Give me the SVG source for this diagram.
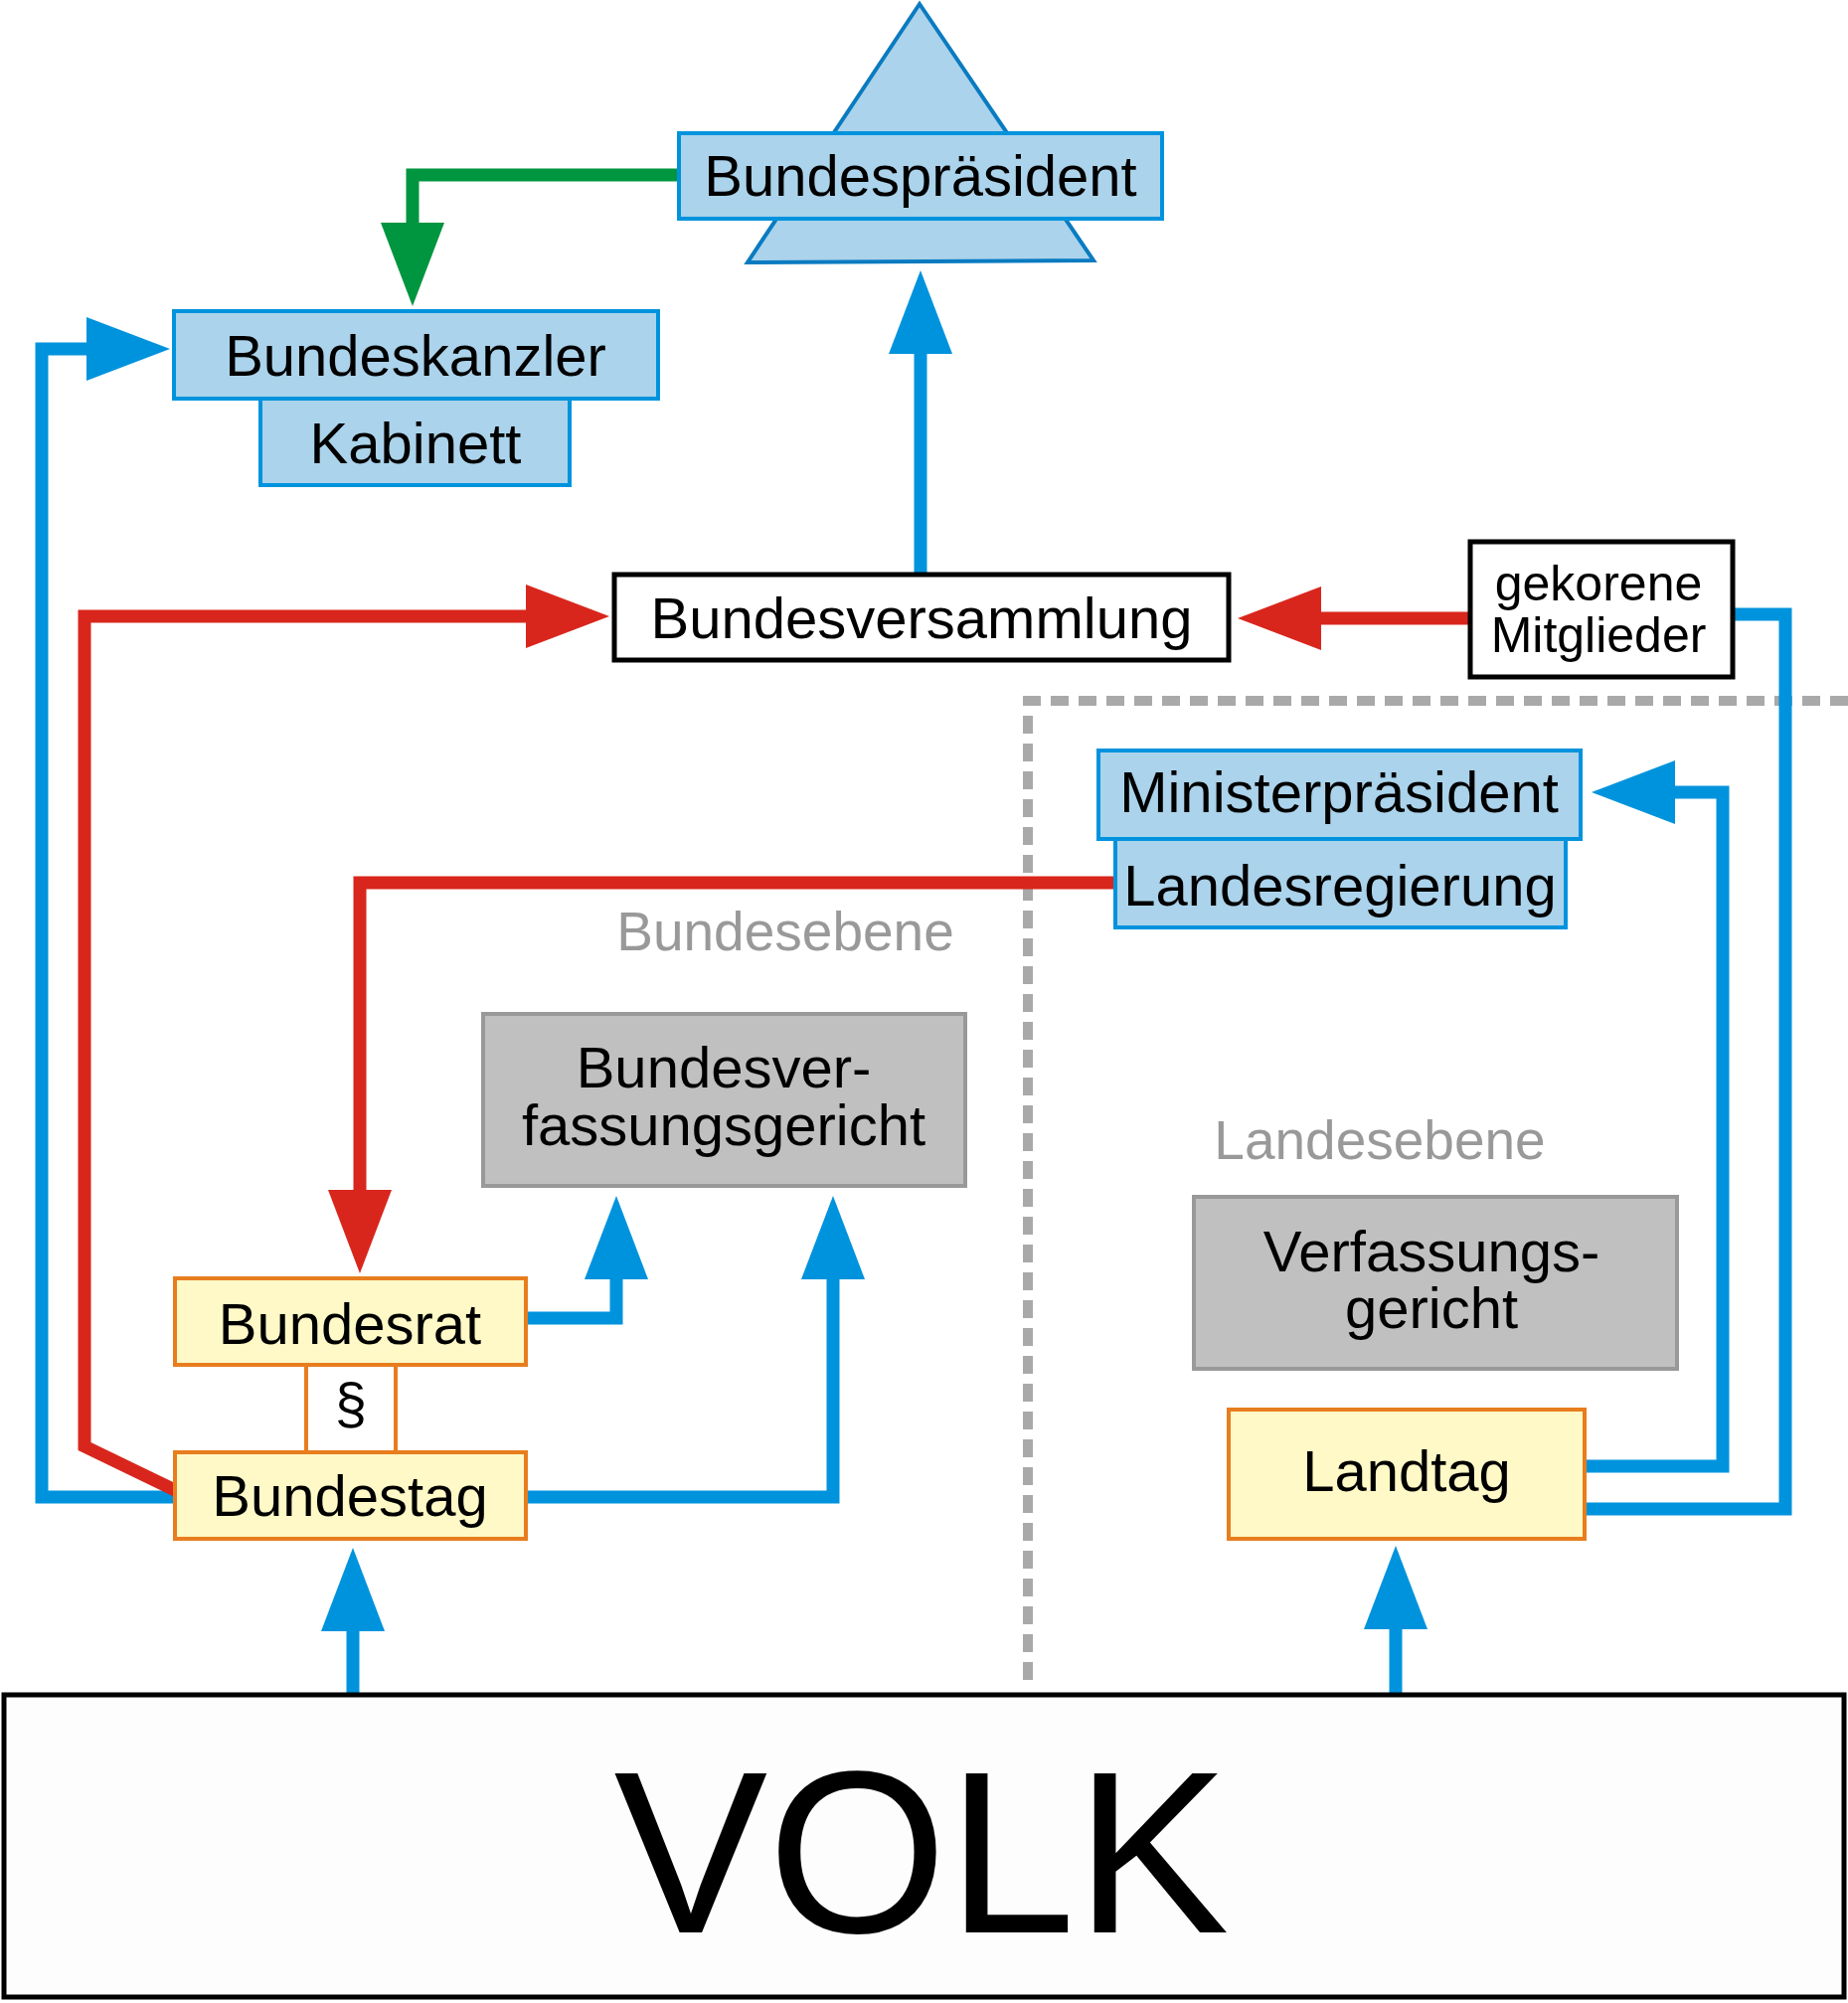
<svg xmlns="http://www.w3.org/2000/svg" width="1859" height="2015" viewBox="0 0 1859 2015">
<style>
text{font-family:"Liberation Sans",Arial,sans-serif;font-size:58px;fill:#000;text-anchor:middle}
text.small{font-size:50px}
text.big{font-size:232px}
.blue{fill:#abd3eb;stroke:#0093dd;stroke-width:4}
.parl{fill:#fef9c6;stroke:#e87d1e;stroke-width:4}
.court{fill:#c0c0c0;stroke:#999;stroke-width:4}
.plain{fill:#fff;stroke:#000;stroke-width:5}
text.lvl{fill:#999;font-size:55px}
.c{fill:none;stroke-width:13;stroke-linejoin:miter;stroke-linecap:butt}
.cb{stroke:#0093dd}
.cr{stroke:#d9261c}
.cg{stroke:#00953f}
</style>
<defs>
<marker id="ab" markerUnits="userSpaceOnUse" markerWidth="90" markerHeight="70" refX="1" refY="32" orient="auto"><path d="M0,0 L84,32 L0,64 Z" fill="#0093dd"/></marker>
<marker id="ar" markerUnits="userSpaceOnUse" markerWidth="90" markerHeight="70" refX="1" refY="32" orient="auto"><path d="M0,0 L84,32 L0,64 Z" fill="#d9261c"/></marker>
<marker id="ag" markerUnits="userSpaceOnUse" markerWidth="90" markerHeight="70" refX="1" refY="32" orient="auto"><path d="M0,0 L84,32 L0,64 Z" fill="#00953f"/></marker>
</defs>
<rect width="1859" height="2015" fill="#fff"/>
<path d="M1859,705 H1034 V1693" fill="none" stroke="#a9a9a9" stroke-width="10" stroke-dasharray="18,10"/>
<g id="connectors">
<path class="c cg" d="M683,176 H415 V225" marker-end="url(#ag)"/>
<path class="c cb" d="M178,1506 H42 V351 H88" marker-end="url(#ab)"/>
<path class="c cb" d="M926,578 V355" marker-end="url(#ab)"/>
<path class="c cr" d="M178,1500 L85,1455 V620 H530" marker-end="url(#ar)"/>
<path class="c cr" d="M1479,622 H1328" marker-end="url(#ar)"/>
<path class="c cb" d="M1743,618 H1796 V1518 H1594"/>
<path class="c cb" d="M1594,1475 H1733 V797 H1684" marker-end="url(#ab)"/>
<path class="c cr" d="M1122,888 H362 V1198" marker-end="url(#ar)"/>
<path class="c cb" d="M529,1326 H620 V1286" marker-end="url(#ab)"/>
<path class="c cb" d="M529,1506 H838 V1286" marker-end="url(#ab)"/>
<path class="c cb" d="M355,1704 V1640" marker-end="url(#ab)"/>
<path class="c cb" d="M1404,1704 V1638" marker-end="url(#ab)"/>
</g>
<g id="bundespraesident">
<polygon points="925,4 752,264 1100,262" fill="#abd3eb" stroke="#0a7bc1" stroke-width="4"/>
<rect class="blue" x="683" y="134" width="486" height="86"/>
<text x="926" y="197">Bundespräsident</text>
</g>
<g id="bundeskanzler">
<rect class="blue" x="175" y="313" width="487" height="88"/>
<text x="418" y="378">Bundeskanzler</text>
</g>
<g id="kabinett">
<rect class="blue" x="262" y="401" width="311" height="87"/>
<text x="418" y="466">Kabinett</text>
</g>
<g id="bundesversammlung">
<rect class="plain" x="618" y="578" width="618" height="86"/>
<text x="927" y="642">Bundesversammlung</text>
</g>
<g id="gekorene">
<rect class="plain" x="1479" y="545" width="264" height="136"/>
<text class="small" x="1608" y="604">gekorene</text>
<text class="small" x="1608" y="656">Mitglieder</text>
</g>
<g id="ministerpraesident">
<rect class="blue" x="1105" y="755" width="485" height="89"/>
<text x="1347" y="817">Ministerpräsident</text>
</g>
<g id="landesregierung">
<rect class="blue" x="1122" y="844" width="453" height="89"/>
<text x="1348" y="911">Landesregierung</text>
</g>
<g id="bundesebene"><text class="lvl" x="790" y="956">Bundesebene</text></g>
<g id="landesebene"><text class="lvl" x="1388" y="1166">Landesebene</text></g>
<g id="bverfg">
<rect class="court" x="486" y="1020" width="485" height="173"/>
<text x="728" y="1094">Bundesver-</text>
<text x="728" y="1152">fassungsgericht</text>
</g>
<g id="lverfg">
<rect class="court" x="1201" y="1204" width="486" height="173"/>
<text x="1440" y="1279">Verfassungs-</text>
<text x="1440" y="1336">gericht</text>
</g>
<g id="landtag">
<rect class="parl" x="1236" y="1418" width="358" height="130"/>
<text x="1415" y="1500">Landtag</text>
</g>
<g id="bundesrat">
<rect class="parl" x="176" y="1286" width="353" height="87"/>
<text x="352" y="1352">Bundesrat</text>
</g>
<g id="paragraph">
<rect class="parl" x="308" y="1373" width="90" height="88" style="fill:#fff"/>
<text x="353" y="1432">§</text>
</g>
<g id="bundestag">
<rect class="parl" x="176" y="1461" width="353" height="87"/>
<text x="352" y="1525">Bundestag</text>
</g>
<g id="volk">
<rect x="4" y="1705" width="1851" height="304" fill="#fdfdfd" stroke="#000" stroke-width="5"/>
<text class="big" x="927" y="1944">VOLK</text>
</g>
</svg>
